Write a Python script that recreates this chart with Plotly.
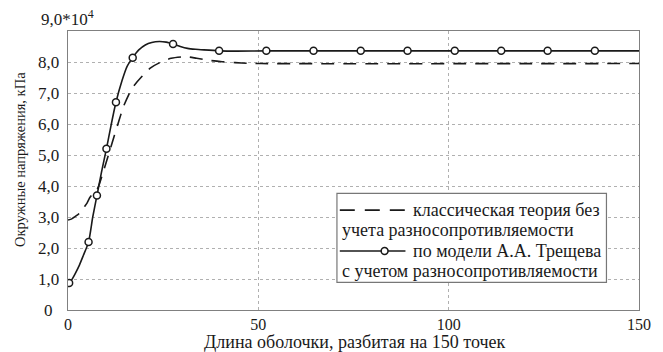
import plotly.graph_objects as go

# Shell length coordinate (150 points) and hoop stress, x10^4 kPa
solid_x = [0, 0.3, 1, 2, 3, 4, 5.4, 6.5, 7.6, 8.8, 10.1, 11.3, 12.6, 14.2, 15.5,
           17.0, 18.6, 20.3, 22.0, 24.0, 25.8, 27.6, 29.5, 31.4, 33.5, 35.7,
           39.7, 44.3, 52.1, 64.5, 76.9, 89.2, 101.6, 113.8, 126.0, 138.4, 150]
solid_y = [0.85, 0.87, 0.98, 1.2, 1.45, 1.75, 2.19, 3.0, 3.69, 4.45, 5.2, 5.95, 6.7,
           7.4, 7.85, 8.14, 8.39, 8.55, 8.63, 8.66, 8.64, 8.58, 8.5, 8.44, 8.41,
           8.39, 8.36, 8.35, 8.36, 8.36, 8.36, 8.36, 8.36, 8.36, 8.36, 8.36, 8.36]

marker_x = [0.3, 5.4, 7.6, 10.1, 12.6, 17.0, 27.6, 39.7, 52.1, 64.5, 76.9, 89.2,
            101.6, 113.8, 126.0, 138.4]
marker_y = [0.87, 2.19, 3.69, 5.2, 6.7, 8.14, 8.58, 8.36, 8.36, 8.36, 8.36, 8.36,
            8.36, 8.36, 8.36, 8.36]

dash_x = [0, 1, 2.4, 3.4, 4.3, 5.0, 5.7, 6.3, 6.9, 7.5, 8.2, 9.0, 10.0, 11.0, 12.1,
          13.0, 13.8, 14.7, 16.8, 19.4, 21.6, 24.1, 27.1, 31.0, 33.8, 37.4, 40.5,
          43.9, 47.3, 50.8, 150]
dash_y = [2.9, 2.94, 3.06, 3.15, 3.33, 3.45, 3.62, 3.72, 3.77, 3.85, 4.05, 4.35,
          4.75, 5.15, 5.6, 5.95, 6.27, 6.6, 7.15, 7.53, 7.8, 7.98, 8.12, 8.17, 8.12,
          8.05, 8.01, 7.98, 7.96, 7.95, 7.95]

x_ticks = [0, 50, 100, 150]
y_ticks = [0, 1, 2, 3, 4, 5, 6, 7, 8]
y_tick_text = ["0", "1,0", "2,0", "3,0", "4,0", "5,0", "6,0", "7,0", "8,0"]

legend_rows = ["классическая теория без", "учета разносопротивляемости",
               "по модели А.А. Трещева", "с учетом разносопротивляемости"]

FONT = "'Liberation Serif', 'Times New Roman', 'DejaVu Serif', serif"
INK = "#1a1a1a"

fig = go.Figure()
fig.add_trace(go.Scatter(x=dash_x, y=dash_y, mode="lines",
                         line=dict(color=INK, width=1.6, dash="13px,9px",
                                   shape="spline", smoothing=0.6),
                         showlegend=False))
fig.add_trace(go.Scatter(x=solid_x, y=solid_y, mode="lines",
                         line=dict(color=INK, width=1.6, shape="spline", smoothing=0.6),
                         showlegend=False))
fig.add_trace(go.Scatter(x=marker_x, y=marker_y, mode="markers",
                         marker=dict(symbol="circle", size=7, color="white",
                                     line=dict(color=INK, width=1.5)),
                         showlegend=False))

# y tick labels, centred in the left column
for v, t in zip(y_ticks, y_tick_text):
    fig.add_annotation(x=-0.0344, xref="paper", y=v, yref="y", text=t,
                       showarrow=False, xanchor="center", yanchor="middle",
                       font=dict(family=FONT, size=17, color=INK))
fig.add_annotation(x=-0.0515, xref="paper", y=1.047, yref="paper",
                   text="9,0*10<sup>4</sup>", showarrow=False,
                   xanchor="left", yanchor="middle",
                   font=dict(family=FONT, size=17, color=INK))

# axis titles
fig.add_annotation(x=0.5026, xref="paper", y=-0.114, yref="paper",
                   text="Длина оболочки, разбитая на 150 точек", showarrow=False,
                   xanchor="center", yanchor="middle",
                   font=dict(family=FONT, size=18, color=INK))
fig.add_annotation(x=-0.0842, xref="paper", y=0.541, yref="paper",
                   text="Окружные напряжения, кПа", showarrow=False, textangle=-90,
                   xanchor="center", yanchor="middle",
                   font=dict(family=FONT, size=14.5, color=INK))

# legend box
fig.add_shape(type="rect", xref="paper", yref="paper", x0=0.471, x1=0.943,
              y0=0.0993, y1=0.418, line=dict(color="#777777", width=1.2),
              fillcolor="white", layer="above")
fig.add_shape(type="line", xref="paper", yref="paper", x0=0.476, x1=0.591,
              y0=0.358, y1=0.358, line=dict(color=INK, width=1.6, dash="15px,10px"),
              layer="above")
fig.add_shape(type="line", xref="paper", yref="paper", x0=0.476, x1=0.591,
              y0=0.2115, y1=0.2115, line=dict(color=INK, width=1.6), layer="above")
fig.add_shape(type="circle", xref="paper", yref="paper", x0=0.5545 - 0.006,
              x1=0.5545 + 0.006, y0=0.2115 - 0.0125, y1=0.2115 + 0.0125,
              line=dict(color=INK, width=1.5), fillcolor="white", layer="above")
for (xp, yp), t in zip([(0.600, 0.358), (0.476, 0.287), (0.600, 0.2115), (0.476, 0.141)],
                       legend_rows):
    fig.add_annotation(x=xp, xref="paper", y=yp, yref="paper", text=t,
                       showarrow=False, xanchor="left", yanchor="middle",
                       font=dict(family=FONT, size=18, color=INK))

grid = dict(showgrid=True, gridcolor="#b0b0b0", griddash="dot", gridwidth=1,
            zeroline=False, showline=True, linecolor="#808080", linewidth=1.2,
            mirror=True, ticks="")
fig.update_xaxes(range=[0, 150], tickvals=x_ticks, ticktext=[str(v) for v in x_ticks],
                 tickfont=dict(family=FONT, size=16, color=INK), **grid)
fig.update_yaxes(range=[0, 9], tickvals=y_ticks, showticklabels=False, **grid)

fig.update_layout(width=663, height=352, margin=dict(l=68, r=13, t=31, b=42),
                  paper_bgcolor="white", plot_bgcolor="white", showlegend=False,
                  font=dict(family=FONT))

fig.write_html("out.html")
